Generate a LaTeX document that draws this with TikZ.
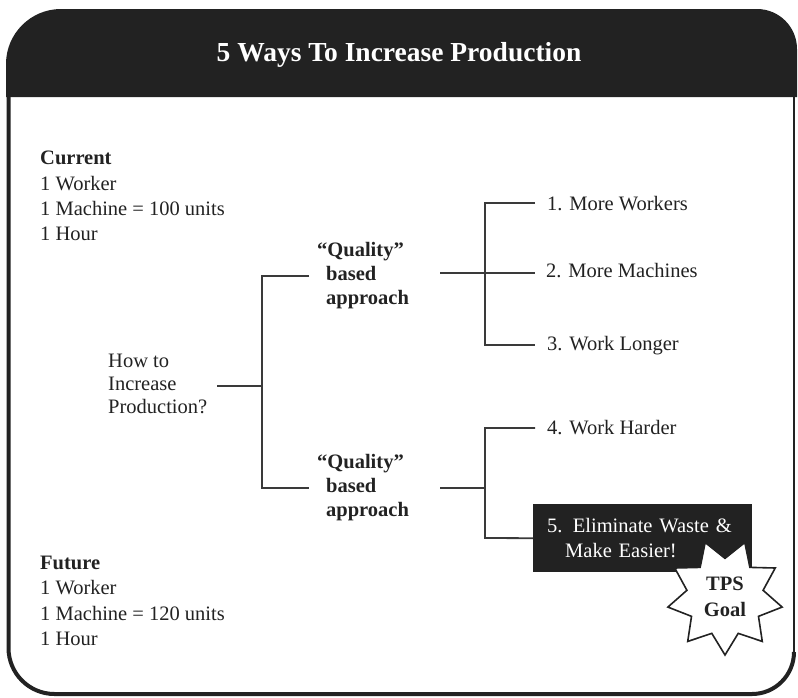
\documentclass[tikz,border=0pt]{standalone}
\usepackage{fontspec}
\setmainfont{Liberation Serif}
\usetikzlibrary{shapes.geometric}
\definecolor{ink}{HTML}{222222}
\definecolor{rule}{HTML}{3A3A3A}

\begin{document}
\begin{tikzpicture}[x=1pt,y=-1pt,
  body/.style={font=\fontsize{20.5}{25.3}\selectfont, inner sep=0, align=left, anchor=north west, text=ink},
  item/.style={font=\fontsize{20.5}{25}\selectfont, inner sep=0, anchor=base west, text=ink},
  quality/.style={font=\bfseries\fontsize{20.5}{24}\selectfont, inner sep=0, align=left, anchor=north west, text=ink},
  branch/.style={draw=rule, line width=1.8},
  frame/.style={draw=ink, line width=4},
  title/.style={font=\bfseries\fontsize{27.5}{31}\selectfont, text=white, inner sep=0},
  goalbox/.style={fill=ink, text=white, font=\fontsize{20.5}{25}\selectfont, align=left,
    text width=191, inner xsep=14, inner ysep=0, minimum height=68, anchor=north west},
  burst/.style={star, star points=9, star point ratio=1.5, minimum size=116, inner sep=0,
    shape border rotate=180, draw=ink, fill=white, line width=1.6,
    font=\bfseries\fontsize{20.5}{26}\selectfont, align=center, text=ink}
]
\useasboundingbox (0,0) rectangle (798,697);

% header band
\fill[ink] (6,97) -- (6,64) arc[start angle=180, end angle=270, radius=55]
  -- (757,9) arc[start angle=270, end angle=360, radius=40] -- (797,97) -- cycle;
\node[title] (title) at (399,55) {5 Ways To Increase Production};

% outer frame
\draw[frame] (8.5,92) -- (8.5,648) arc[start angle=180, end angle=90, radius=46]
  -- (752,694) arc[start angle=90, end angle=0, radius=42];
\draw[draw=ink, line width=1.6] (794,652) -- (794,95);

% side notes
\node[body] (current) at (40,151) {\textbf{Current}\\1 Worker\\1 Machine = 100 units\\1 Hour};
\node[body] (future) at (40,556) {\textbf{Future}\\1 Worker\\1 Machine = 120 units\\1 Hour};

% root question
\node[body, font=\fontsize{20.5}{23}\selectfont] (how) at (108,354) {How to\\Increase\\Production?};

% approaches
\node[quality] (qa) at (317,242) {``Quality''\\\hspace*{9pt}based\\\hspace*{9pt}approach};
\node[quality] (qb) at (317,454) {``Quality''\\\hspace*{9pt}based\\\hspace*{9pt}approach};

% ways
\node[item] (w1) at (547,210) {1. More Workers};
\node[item] (w2) at (546,277) {2. More Machines};
\node[item] (w3) at (547,350) {3. Work Longer};
\node[item] (w4) at (547,434) {4. Work Harder};
\node[goalbox] (w5) at (533,504) {5. Eliminate Waste \&\\\hspace*{18pt}Make Easier!};

% connector junctions
\coordinate (rootL) at (217,386);
\coordinate (rootJ) at (262,386);
\coordinate (qaJ) at (262,276);
\coordinate (qaL) at (309,276);
\coordinate (qbJ) at (262,488);
\coordinate (qbL) at (309,488);
\coordinate (qaR) at (440,273);
\coordinate (qbR) at (440,488);
\coordinate (tJ1) at (485,203);
\coordinate (tJ3) at (485,345);
\coordinate (bJ4) at (485,428);
\coordinate (bJ5) at (485,538);
\coordinate (bJ) at (485,488);
\coordinate (e1) at (535,203);
\coordinate (e2) at (535,273);
\coordinate (e3) at (535,345);
\coordinate (e4) at (535,428);

\draw[branch] (rootL) -- (rootJ);
\draw[branch] (qaL) -- (qaJ) -- (qbJ) -- (qbL);
\draw[branch] (qaR) -- (e2);
\draw[branch] (e1) -- (tJ1) -- (tJ3) -- (e3);
\draw[branch] (qbR) -- (bJ);
\draw[branch] (e4) -- (bJ4) -- (bJ5) -- (w5.west);

% goal burst
\node[burst] (goal) at (725,597) {TPS\\Goal};
\end{tikzpicture}
\end{document}
